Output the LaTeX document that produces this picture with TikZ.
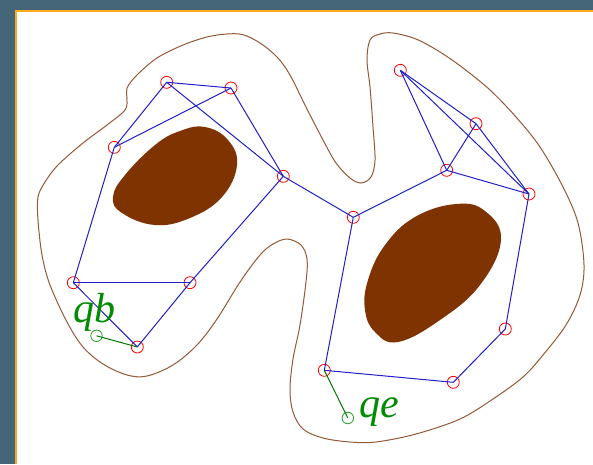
\documentclass[tikz,border=0pt]{standalone}
\usepackage{fontspec}
\setmainfont{Liberation Serif}
\definecolor{bgteal}{HTML}{456678}
\definecolor{frameorange}{HTML}{FFAA1E}
\definecolor{blobbrown}{HTML}{7F3300}
\definecolor{outlinebrown}{HTML}{945A38}
\definecolor{edgeblue}{HTML}{2020C8}
\definecolor{labelgreen}{HTML}{008C00}
\tikzset{
  vertex/.style={circle,draw=red,line width=0.8pt,minimum size=12pt,inner sep=0pt},
  endvertex/.style={circle,draw=labelgreen!85,line width=0.8pt,minimum size=11.5pt,inner sep=0pt},
  edge/.style={draw=edgeblue,line width=1pt},
  link/.style={draw=labelgreen!85!black,line width=1pt},
  lbl/.style={text=labelgreen,font=\fontsize{42}{42}\selectfont\itshape,anchor=base west,inner sep=0pt},
  blob/.style={fill=blobbrown,draw=none},
  contour/.style={draw=outlinebrown,line width=1pt}
}
\begin{document}
\begin{tikzpicture}[x=1pt,y=-1pt]
\useasboundingbox (0,0) rectangle (593,464);
\fill[bgteal] (0,0) rectangle (593,464);
\fill[frameorange] (14.5,9.5) rectangle (593,464);
\fill[white] (16.5,11.5) rectangle (593,464);
% obstacles
\fill[blob] plot[smooth cycle,tension=0.7] coordinates {(205,127) (228,140) (237,165) (222,197) (190,218) (155,225) (122,213) (113,197) (125,175) (155,145) (180,131)};
\fill[blob] plot[smooth cycle,tension=0.7] coordinates {(456,204) (485,211) (501,240) (480,285) (440,320) (398,342) (375,332) (365,310) (368,280) (385,245) (415,217)};
% free-space contour
\draw[contour] plot[smooth cycle,tension=0.55] coordinates {
(226.7,34) (243,34.7) (260,43) (277,57) (290,75) (306,107) (323,140) (336,163) (350,178) (361,183) (371,177) (375,160) (373,127) (370,87) (367,60) (370,40) (380,34) (393,33) (416,39) (440,52) (463,68) (490,90) (516,117) (540,147) (563,187) (578,223) (584,265) (580,295) (566,325) (543,355) (523,377) (493,399) (460,419) (416,434) (376,442) (350,442) (323,438) (303,429) (293,412) (290,389) (293,359) (300,325) (306,282) (307,259) (301,245) (287,239) (273,244) (260,255) (240,282) (217,319) (197,345) (173,365) (147,376) (127,375) (103,364) (83,347) (67,322) (50,285) (42,255) (38,220) (38,197) (45,182) (58,165) (83,143) (107,125) (125,110) (127,98) (127,88) (137,75) (157,58) (183,45) (207,37)};
% vertices
\node[vertex] (a1) at (166.7,82.3) {};
\node[vertex] (a2) at (231,88) {};
\node[vertex] (a3) at (114.3,147.3) {};
\node[vertex] (a4) at (283.3,176.3) {};
\node[vertex] (a5) at (73.3,282.7) {};
\node[vertex] (a6) at (190,282.7) {};
\node[vertex] (a7) at (137.3,347) {};
\node[vertex] (b1) at (353.3,217.3) {};
\node[vertex] (b2) at (400.3,70.3) {};
\node[vertex] (b3) at (476,123.7) {};
\node[vertex] (b4) at (446.7,170.3) {};
\node[vertex] (b5) at (529,194) {};
\node[vertex] (b6) at (505.3,329) {};
\node[vertex] (b7) at (453.3,382.3) {};
\node[vertex] (b8) at (324.3,370.3) {};
\node[endvertex] (qb) at (96.5,335.8) {};
\node[endvertex] (qe) at (347.8,418) {};
% roadmap edges
\foreach \u/\v in {a1/a2,a1/a3,a1/a4,a2/a3,a2/a4,a3/a5,a4/a6,a6/a7,a5/a6,a5/a7,a4/b1,b1/b4,b4/b2,b4/b3,b4/b5,b2/b3,b2/b5,b3/b5,b5/b6,b6/b7,b7/b8,b8/b1}
  \draw[edge] (\u.center) -- (\v.center);
\draw[link] (qb.center) -- (a7.center);
\draw[link] (qe.center) -- (b8.center);
% labels
\node[lbl] (lqb) at (73,322.5) {qb};
\node[lbl] (lqe) at (359.5,417) {qe};
\end{tikzpicture}
\end{document}
